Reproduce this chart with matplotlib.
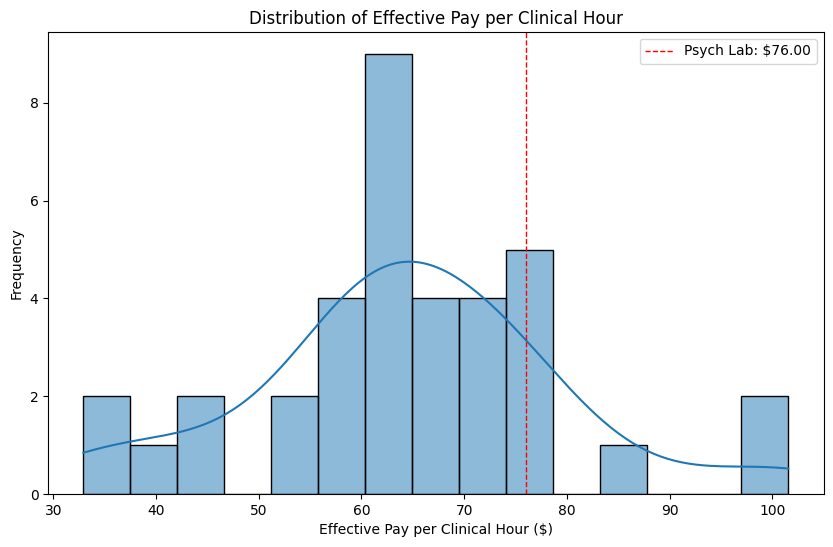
import matplotlib
matplotlib.use("Agg")
import matplotlib.pyplot as plt
import seaborn as sns
import numpy as np

# Effective pay per clinical hour ($) — values estimated to reproduce the histogram
pay = [32.93, 34.0,
       38.5,
       42.8, 46.3,
       51.6, 55.0,
       56.0, 57.0, 58.5, 60.0,
       60.5, 60.8, 61.2, 61.6, 62.0, 62.6, 63.2, 64.0, 64.9,
       65.5, 67.0, 68.5, 69.4,
       70.0, 71.5, 73.0, 74.0,
       74.5, 75.5, 76.0, 77.5, 78.4,
       86.5,
       99.5, 101.56]
psych_lab = 76.00
n_bins = 15

fig = plt.figure(figsize=(8.33, 5.47), dpi=100)
ax = fig.add_axes([48.2/833, 1-494/547, (823.5-48.2)/833, (494-32)/547])
sns.histplot(pay, bins=n_bins, kde=True, ax=ax, edgecolor="black")
ax.axvline(psych_lab, color="red", linestyle="--", linewidth=1,
           label=f"Psych Lab: ${psych_lab:.2f}")
ax.set_title("Distribution of Effective Pay per Clinical Hour")
ax.set_xlabel("Effective Pay per Clinical Hour ($)")
ax.set_ylabel("Frequency")
ax.legend(loc="upper right")
fig.savefig("out.png", dpi=100)
